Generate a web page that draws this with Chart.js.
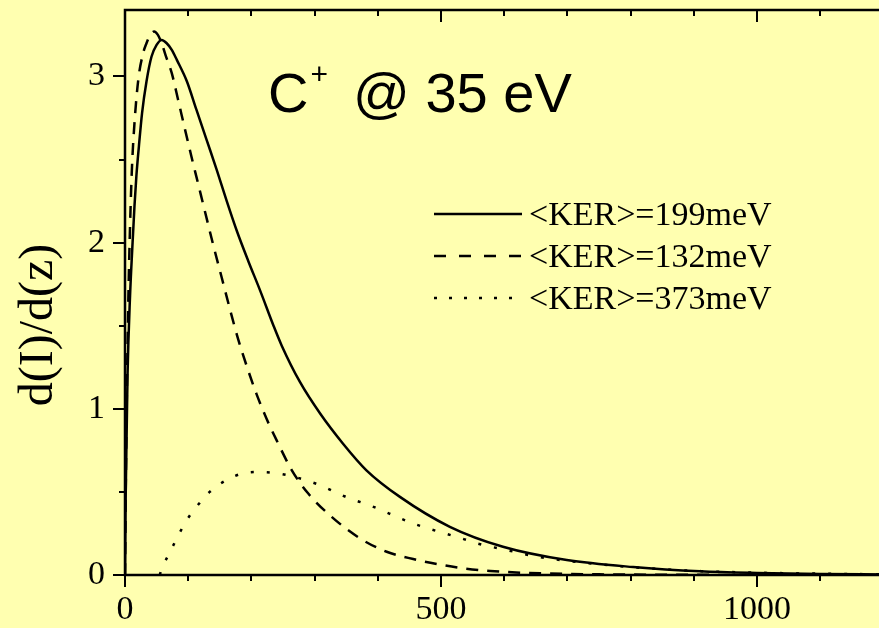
<!DOCTYPE html>
<html>
<head>
<meta charset="utf-8">
<title>C+ @ 35 eV</title>
<script src="https://cdn.jsdelivr.net/npm/chart.js@4.4.1/dist/chart.umd.min.js"></script>
<style>
    html, body { margin: 0; padding: 0; background: #ffffb0; }
    #wrap { position: relative; width: 879px; height: 628px; }
</style>
</head>
<body>
<div id="wrap"><canvas id="ker-chart"></canvas></div>
<script>
(function () {
    "use strict";

    // Data
    var ker199X = [0, 1, 4, 8, 12, 15, 18, 22, 27, 34, 42, 50, 58, 66, 74, 82, 98, 113, 129, 145, 161, 177, 195, 214, 235, 248, 277, 309, 345, 382, 435, 514, 598, 699, 804, 910, 1000, 1100, 1200];
    var ker199Y = [0, 0.45, 1.2, 1.68, 2.0, 2.22, 2.4, 2.58, 2.78, 2.97, 3.12, 3.19, 3.22, 3.2, 3.16, 3.1, 2.97, 2.8, 2.62, 2.44, 2.25, 2.07, 1.89, 1.71, 1.5, 1.38, 1.16, 0.97, 0.79, 0.63, 0.47, 0.29, 0.17, 0.09, 0.048, 0.022, 0.012, 0.006, 0.003];

    var ker132X = [0, 2, 5, 8, 11, 15, 21, 28, 34, 40, 46, 52, 58, 64, 74, 84, 95, 105, 116, 127, 140, 153, 166, 179, 195, 208, 224, 240, 264, 290, 327, 372, 414, 456, 498, 535, 578, 657, 750, 900, 1200];
    var ker132Y = [0, 0.8, 1.6, 2.1, 2.45, 2.72, 2.98, 3.13, 3.2, 3.25, 3.27, 3.25, 3.2, 3.13, 3.02, 2.86, 2.68, 2.52, 2.35, 2.18, 1.98, 1.79, 1.6, 1.42, 1.23, 1.09, 0.94, 0.81, 0.63, 0.49, 0.35, 0.22, 0.14, 0.096, 0.063, 0.04, 0.024, 0.01, 0.004, 0.001, 0];

    var ker373X = [55, 58, 70, 82, 96, 113, 134, 160, 185, 208, 234, 258, 282, 309, 332, 356, 383, 406, 430, 456, 480, 506, 533, 557, 604, 652, 700, 800, 900, 1000, 1100, 1200];
    var ker373Y = [0, 0.036, 0.13, 0.22, 0.32, 0.41, 0.5, 0.57, 0.61, 0.62, 0.615, 0.6, 0.575, 0.54, 0.5, 0.46, 0.425, 0.39, 0.35, 0.31, 0.28, 0.25, 0.22, 0.19, 0.15, 0.11, 0.085, 0.048, 0.025, 0.014, 0.008, 0.004];

    var seriesLabels = ["<KER>=199meV", "<KER>=132meV", "<KER>=373meV"];
    var xTickLabels = [0, 500, 1000];
    var yTickLabels = [0, 1, 2, 3];

    var serif = "'Liberation Serif', 'Times New Roman', serif";
    var sans = "'Liberation Sans', Arial, sans-serif";

    function toPoints(xs, ys) {
        return xs.map(function (x, i) {
            return {x: x, y: ys[i]};
        });
    }

    // Axis frame with major / minor ticks
    var framePlugin = {
        id: "frame",
        afterDraw: function (chart) {
            var ctx = chart.ctx;
            var a = chart.chartArea;
            var sx = chart.scales.x;
            var sy = chart.scales.y;
            var v, p, len;
            ctx.save();
            ctx.strokeStyle = "#000";
            ctx.lineWidth = 2.5;
            ctx.beginPath();
            ctx.moveTo(a.right + 2, a.top);
            ctx.lineTo(a.left, a.top);
            ctx.lineTo(a.left, a.bottom);
            ctx.lineTo(a.right + 2, a.bottom);
            ctx.stroke();

            ctx.lineWidth = 2;
            ctx.beginPath();
            for (v = 0; v <= sx.max; v += 100) {
                p = Math.round(sx.getPixelForValue(v));
                len = (v % 500 === 0) ? 12 : 6;
                ctx.moveTo(p, a.bottom);
                ctx.lineTo(p, a.bottom + len);
                ctx.moveTo(p, a.top);
                ctx.lineTo(p, a.top + len);
            }
            for (v = 0; v <= sy.max + 1e-9; v += 0.5) {
                p = Math.round(sy.getPixelForValue(v));
                len = (v % 1 === 0) ? 12 : 6;
                ctx.moveTo(a.left - len, p);
                ctx.lineTo(a.left, p);
            }
            ctx.stroke();

            // y axis title
            ctx.translate(39, 325);
            ctx.rotate(-Math.PI / 2);
            ctx.fillStyle = "#000";
            ctx.font = "48px " + serif;
            ctx.textAlign = "center";
            ctx.textBaseline = "middle";
            ctx.fillText("d(I)/d(z)", 0, 0);
            ctx.restore();
        }
    };

    // "C+ @ 35 eV" label with superscript
    var labelPlugin = {
        id: "ionLabel",
        afterDraw: function (chart) {
            var ctx = chart.ctx;
            ctx.save();
            ctx.fillStyle = "#000";
            ctx.textBaseline = "alphabetic";
            ctx.font = "56px " + sans;
            ctx.fillText("C", 268, 112);
            var w = ctx.measureText("C").width;
            ctx.font = "30px " + sans;
            ctx.fillText("+", 268 + w + 2, 84);
            ctx.font = "56px " + sans;
            ctx.fillText("@ 35 eV", 353, 112);
            ctx.restore();
        }
    };

    // Legend drawn from the dataset styles
    var legendPlugin = {
        id: "lineLegend",
        afterDraw: function (chart) {
            var ctx = chart.ctx;
            var dashes = [[], [12, 13], [3, 12]];
            ctx.save();
            chart.data.datasets.forEach(function (ds, i) {
                var y = 215 + i * 42;
                ctx.strokeStyle = ds.borderColor;
                ctx.lineWidth = ds.borderWidth;
                ctx.setLineDash(dashes[i]);
                ctx.beginPath();
                ctx.moveTo(434, y - 1);
                ctx.lineTo(522, y - 1);
                ctx.stroke();
                ctx.setLineDash([]);
                ctx.fillStyle = "#000";
                ctx.font = "34px " + serif;
                ctx.textBaseline = "middle";
                ctx.fillText(ds.label, 529, y + 1);
            });
            ctx.restore();
        }
    };

    function noPadding(scale) {
        scale.paddingTop = 0;
        scale.paddingBottom = 0;
        scale.paddingLeft = 0;
        scale.paddingRight = 0;
    }

    var ctx1 = document.getElementById("ker-chart").getContext("2d");
    var kerChart = new Chart(ctx1, {
        type: "line",
        data: {
            datasets: [{
                    label: seriesLabels[0],
                    data: toPoints(ker199X, ker199Y),
                    borderColor: "#000",
                    borderWidth: 2.5,
                    borderDash: []
                },
                {
                    label: seriesLabels[1],
                    data: toPoints(ker132X, ker132Y),
                    borderColor: "#000",
                    borderWidth: 2.5,
                    borderDash: [12, 9]
                },
                {
                    label: seriesLabels[2],
                    data: toPoints(ker373X, ker373Y),
                    borderColor: "#000",
                    borderWidth: 2.5,
                    borderDash: [3, 13]
                }
            ]
        },
        options: {
            responsive: true,
            maintainAspectRatio: false,
            animation: false,
            layout: {padding: {left: 0, top: 10, right: 0, bottom: 0}},
            elements: {
                point: {radius: 0},
                line: {cubicInterpolationMode: "monotone", fill: false}
            },
            plugins: {
                legend: {display: false},
                tooltip: {enabled: false}
            },
            scales: {
                x: {
                    type: "linear",
                    min: 0,
                    max: 1193,
                    grid: {display: false, drawTicks: false},
                    border: {display: false},
                    afterFit: function (scale) {
                        scale.height = 53;
                        noPadding(scale);
                    },
                    afterBuildTicks: function (scale) {
                        scale.ticks = xTickLabels.map(function (v) { return {value: v}; });
                    },
                    ticks: {
                        padding: 15,
                        maxRotation: 0,
                        autoSkip: false,
                        color: "#000",
                        font: {family: serif, size: 34},
                        callback: function (v) { return String(v); }
                    }
                },
                y: {
                    min: 0,
                    max: 3.4,
                    grid: {display: false, drawTicks: false},
                    border: {display: false},
                    afterFit: function (scale) {
                        scale.width = 125;
                        noPadding(scale);
                    },
                    afterBuildTicks: function (scale) {
                        scale.ticks = yTickLabels.map(function (v) { return {value: v}; });
                    },
                    ticks: {
                        padding: 20,
                        autoSkip: false,
                        color: "#000",
                        font: {family: serif, size: 34},
                        callback: function (v) { return String(v); }
                    }
                }
            }
        },
        plugins: [framePlugin, labelPlugin, legendPlugin]
    });

})();
</script>
</body>
</html>
